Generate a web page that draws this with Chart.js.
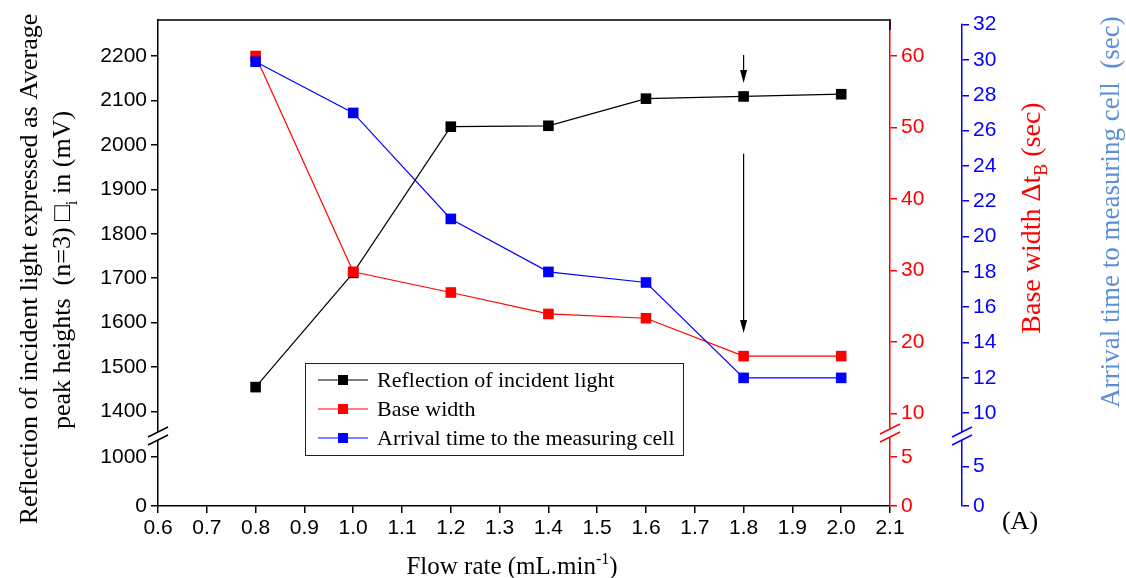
<!DOCTYPE html>
<html>
<head>
<meta charset="utf-8">
<script src="https://cdn.jsdelivr.net/npm/chart.js@4.4.1/dist/chart.umd.min.js"></script>
<style>
  html, body { margin: 0; padding: 0; background: #fff; }
</style>
</head>
<body>
<canvas id="chart" width="1126" height="578"></canvas>
<script>
// values
const flowRates = [0.8, 1.0, 1.2, 1.4, 1.6, 1.8, 2.0];
const reflection = [1455, 1712, 2041, 2043, 2104, 2109, 2114];
const baseWidth = [60, 29.8, 26.9, 23.9, 23.3, 18, 18];
const arrivalTime = [29.9, 27, 21, 18, 17.4, 12, 12];

const xTicks = [0.6, 0.7, 0.8, 0.9, 1.0, 1.1, 1.2, 1.3, 1.4, 1.5, 1.6, 1.7, 1.8, 1.9, 2.0, 2.1];
const leftTicksHigh = [1400, 1500, 1600, 1700, 1800, 1900, 2000, 2100, 2200];
const leftTicksLow = [0, 1000];
const redTicksHigh = [10, 20, 30, 40, 50, 60];
const redTicksLow = [0, 5];
const blueTicksHigh = [10, 12, 14, 16, 18, 20, 22, 24, 26, 28, 30, 32];
const blueTicksLow = [0, 5];

// arrows at flow rate 1.8, given in left-axis units (from, to)
const arrowX = 1.8;
const arrows = [[2202, 2139], [1980, 1577]];

const RED = '#ff0000';
const BLUE = '#0000ff';
const LIGHTBLUE = '#5b8fd9';
const tickFont = { family: '"Liberation Sans", Arial, sans-serif', size: 21 };
const SERIF = '"Liberation Serif", "Times New Roman", serif';

function axis(pos, stack, weight, min, max, ticks, color, width) {
  return {
    type: 'linear', position: pos, stack: stack, stackWeight: weight, min: min, max: max,
    afterBuildTicks: a => { a.ticks = ticks.map(v => ({ value: v })); },
    afterFit: a => { a.width = width; },
    grid: { drawOnChartArea: false, color: color, lineWidth: 1.5, tickLength: 7 },
    border: { color: color, width: 1.5 },
    ticks: { color: color, font: tickFont, padding: 4, autoSkip: false, callback: v => v }
  };
}

function richText(ctx, parts, cx, cy, angle, size, color) {
  ctx.save();
  ctx.translate(cx, cy);
  ctx.rotate(angle);
  ctx.fillStyle = color;
  ctx.textBaseline = 'alphabetic';
  const fontFor = p => (p.sub || p.sup ? Math.round(size * 0.65) : size) + 'px ' + SERIF;
  let total = 0;
  parts.forEach(p => { ctx.font = fontFor(p); p.w = ctx.measureText(p.t).width; total += p.w; });
  let x = -total / 2;
  parts.forEach(p => {
    ctx.font = fontFor(p);
    const dy = p.sub ? size * 0.25 : p.sup ? -size * 0.4 : 0;
    ctx.fillText(p.t, x, size * 0.35 + dy);
    x += p.w;
  });
  ctx.restore();
}

function breakMark(ctx, x, y, color) {
  ctx.fillStyle = '#fff';
  ctx.fillRect(x - 2, y - 4, 4, 8);
  ctx.strokeStyle = color;
  ctx.lineWidth = 1.5;
  [-4, 4].forEach(off => {
    ctx.beginPath();
    ctx.moveTo(x - 10, y + off + 5);
    ctx.lineTo(x + 10, y + off - 5);
    ctx.stroke();
  });
}

const decorations = {
  id: 'decorations',
  afterDraw(chart) {
    const ctx = chart.ctx;
    const s = chart.scales;
    const area = chart.chartArea;
    ctx.save();

    // top frame
    ctx.strokeStyle = '#000';
    ctx.lineWidth = 1.5;
    ctx.beginPath();
    ctx.moveTo(area.left, area.top);
    ctx.lineTo(area.right, area.top);
    ctx.lineTo(area.right, area.top + 10);
    ctx.stroke();

    // blue axis line stops at its top tick
    ctx.fillStyle = '#fff';
    ctx.fillRect(s.bHigh.left - 2, area.top - 2, 4, s.bHigh.getPixelForValue(32) - area.top + 1);

    // axis breaks
    breakMark(ctx, s.yHigh.right, s.yHigh.bottom, '#000');
    breakMark(ctx, s.rHigh.left, s.rHigh.bottom - 3, RED);
    breakMark(ctx, s.bHigh.left, s.bHigh.bottom, BLUE);

    // arrows
    ctx.strokeStyle = '#000';
    ctx.fillStyle = '#000';
    ctx.lineWidth = 1.2;
    const ax = s.x.getPixelForValue(arrowX);
    arrows.forEach(([from, to]) => {
      const y0 = s.yHigh.getPixelForValue(from);
      const y1 = s.yHigh.getPixelForValue(to);
      ctx.beginPath();
      ctx.moveTo(ax, y0);
      ctx.lineTo(ax, y1 - 10);
      ctx.stroke();
      ctx.beginPath();
      ctx.moveTo(ax, y1);
      ctx.lineTo(ax - 3.5, y1 - 13);
      ctx.lineTo(ax + 3.5, y1 - 13);
      ctx.closePath();
      ctx.fill();
    });

    // legend
    const lx = 305, ly = 363, lw = 378, lh = 92;
    ctx.strokeStyle = '#222';
    ctx.lineWidth = 1;
    ctx.strokeRect(lx + 0.5, ly + 0.5, lw, lh);
    ctx.font = '22px ' + SERIF;
    ctx.textBaseline = 'middle';
    chart.data.datasets.forEach((ds, i) => {
      const y = ly + 17 + i * 29;
      ctx.strokeStyle = ds.borderColor;
      ctx.lineWidth = 1.2;
      ctx.beginPath();
      ctx.moveTo(lx + 13, y);
      ctx.lineTo(lx + 63, y);
      ctx.stroke();
      ctx.fillStyle = ds.backgroundColor;
      ctx.fillRect(lx + 33, y - 5, 10, 10);
      ctx.fillStyle = '#000';
      ctx.fillText(ds.label, lx + 72, y + 1);
    });

    // axis titles
    richText(ctx, [{ t: 'Reflection of incident light expressed as Average' }], 28, 269, -Math.PI / 2, 26, '#000');
    richText(ctx, [{ t: 'peak heights  (n=3) \u25A1' }, { t: 'i', sub: true }, { t: ' in (mV)' }], 61, 270, -Math.PI / 2, 26, '#000');
    richText(ctx, [{ t: 'Base width \u0394t' }, { t: 'B', sub: true }, { t: ' (sec)' }], 1030, 218, -Math.PI / 2, 28, RED);
    richText(ctx, [{ t: 'Arrival time to measuring cell  (sec)' }], 1110, 212, -Math.PI / 2, 27, LIGHTBLUE);
    richText(ctx, [{ t: 'Flow rate (mL.min' }, { t: '-1', sup: true }, { t: ')' }], 512, 565, 0, 25, '#000');
    richText(ctx, [{ t: '(A)' }], 1020, 520, 0, 26, '#000');

    ctx.restore();
  }
};

const pts = arr => flowRates.map((x, i) => ({ x: x, y: arr[i] }));

new Chart(document.getElementById('chart'), {
  type: 'line',
  data: {
    datasets: [
      { label: 'Reflection of incident light', data: pts(reflection), yAxisID: 'yHigh', order: 3,
        borderColor: '#000', backgroundColor: '#000' },
      { label: 'Base width', data: pts(baseWidth), yAxisID: 'rHigh', order: 2,
        borderColor: RED, backgroundColor: RED },
      { label: 'Arrival time to the measuring cell', data: pts(arrivalTime), yAxisID: 'bHigh', order: 1,
        borderColor: BLUE, backgroundColor: BLUE }
    ]
  },
  options: {
    responsive: false,
    animation: false,
    layout: { padding: { left: 80, right: 104, top: 20, bottom: 0 } },
    elements: {
      line: { borderWidth: 1.2, tension: 0 },
      point: { pointStyle: 'rect', radius: 7.5, borderWidth: 0, hoverRadius: 7.5 }
    },
    plugins: { legend: { display: false }, tooltip: { enabled: false } },
    scales: {
      x: {
        type: 'linear', position: 'bottom', min: 0.6, max: 2.1,
        afterBuildTicks: a => { a.ticks = xTicks.map(v => ({ value: v })); },
        afterFit: a => { a.height = 72; },
        grid: { drawOnChartArea: false, color: '#000', lineWidth: 1.5, tickLength: 7 },
        border: { color: '#000', width: 1.5 },
        ticks: { color: '#000', font: tickFont, padding: 3, autoSkip: false, maxRotation: 0, callback: v => v.toFixed(1) }
      },
      yLow: axis('left', 'left', 70, 0, 1420, leftTicksLow, '#000', 78),
      yHigh: axis('left', 'left', 416, 1345, 2281, leftTicksHigh, '#000', 78),
      rHigh: axis('right', 'red', 416, 6.82, 65.04, redTicksHigh, RED, 72),
      rLow: axis('right', 'red', 70, 0, 7.1, redTicksLow, RED, 72),
      bHigh: axis('right', 'blue', 416, 8.71, 32.26, blueTicksHigh, BLUE, 60),
      bLow: axis('right', 'blue', 70, 0, 8.9, blueTicksLow, BLUE, 60)
    }
  },
  plugins: [decorations]
});
</script>
</body>
</html>
